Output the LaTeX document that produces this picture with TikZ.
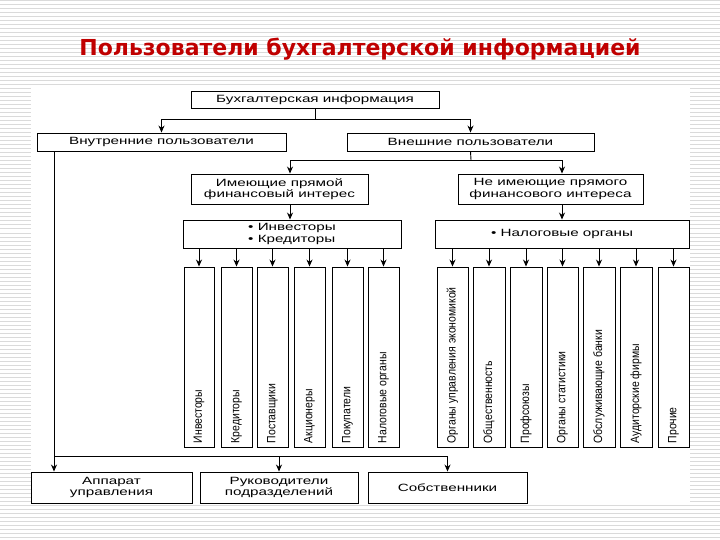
\documentclass[tikz,border=0pt]{standalone}
\usepackage{fontspec}
\setmainfont{Liberation Sans}
\newfontfamily\widefont[FakeStretch=1.45]{Liberation Sans}
\newfontfamily\narrowfont[FakeStretch=0.87]{Liberation Sans}
\newfontfamily\titlefont{DejaVu Sans}
\usetikzlibrary{arrows.meta,shadows}
\definecolor{titlered}{RGB}{192,0,0}
\definecolor{stripe}{RGB}{218,218,218}
\begin{document}
\begin{tikzpicture}[x=1pt,y=-1pt,
  box/.style={draw=black, line width=0.9pt, fill=white, inner sep=1pt,
    drop shadow={shadow xshift=1pt, shadow yshift=-1pt, fill=black, opacity=1},
    font=\widefont\fontsize{10.5}{11.5}\selectfont, align=center},
  colbox/.style={box, minimum height=180pt},
  coltext/.style={rotate=90, anchor=west, inner sep=0pt,
    font=\narrowfont\fontsize{12}{13}\selectfont},
  arr/.style={line width=0.9pt, -{Stealth[length=7pt,width=6pt]}},
  conn/.style={line width=0.9pt}]
\useasboundingbox (0,0) rectangle (720,540);
% striped background
\foreach \yy in {1,5,...,539} \draw[stripe, line width=1pt] (0,\yy) -- (720,\yy);
\fill[white] (31,88) rectangle (690,505);
% title
\node[font=\titlefont\bfseries\fontsize{22}{26}\selectfont, text=titlered] (title) at (360,49) {Пользователи бухгалтерской информацией};
% top boxes
\node[box, minimum width=248pt, minimum height=17pt] (bux) at (315,99.5) {Бухгалтерская информация};
\node[box, minimum width=249pt, minimum height=18pt] (vnutr) at (161.5,142) {Внутренние пользователи};
\node[box, minimum width=247pt, minimum height=18pt] (vnesh) at (470.5,142) {Внешние пользователи};
\node[box, minimum width=177pt, minimum height=30pt] (imeyu) at (279.5,189) {Имеющие прямой\\финансовый интерес};
\node[box, minimum width=185pt, minimum height=30pt] (neimeyu) at (550.5,189) {Не имеющие прямого\\финансового интереса};
\node[box, minimum width=218pt, minimum height=28pt, align=left] (invkr) at (292,234) {• Инвесторы\\• Кредиторы};
\node[box, minimum width=254pt, minimum height=28pt] (nalog) at (562,234) {• Налоговые органы};
% bottom boxes
\node[box, minimum width=161pt, minimum height=31pt] (appar) at (111.5,487.5) {Аппарат\\управления};
\node[box, minimum width=158pt, minimum height=31pt] (ruk) at (279,487.5) {Руководители\\подразделений};
\node[box, minimum width=159pt, minimum height=31pt] (sobst) at (447.5,487.5) {Собственники};
% columns
\foreach \n/\a/\b/\t in {L1/184/214/Инвесторы, L2/221/252/Кредиторы, L3/257/288/Поставщики,
  L4/294/325/Акционеры, L5/332/363/Покупатели, L6/368/399/Налоговые органы}{
  \node[colbox, minimum width={(\b-\a)*1pt}] (c\n) at ({(\a+\b)/2},357) {};
  \node[coltext] (t\n) at ([yshift=4pt]c\n.south) {\t};
  \draw[arr] (c\n.north |- invkr.south) -- (c\n.north);
}
\foreach \n/\a/\b/\t in {R1/437/468/Органы управления экономикой, R2/473/505/Общественность,
  R3/510/542/Профсоюзы, R4/547/578/Органы статистики, R5/583/615/Обслуживающие банки,
  R6/620/652/Аудиторские фирмы, R7/658/689/Прочие}{
  \node[colbox, minimum width={(\b-\a)*1pt}] (c\n) at ({(\a+\b)/2},357) {};
  \node[coltext] (t\n) at ([yshift=4pt]c\n.south) {\t};
  \draw[arr] (c\n.north |- nalog.south) -- (c\n.north);
}
% connectors
\coordinate (j1) at (315,119);
\draw[conn] (bux.south) -- (j1);
\draw[arr] (j1) -| (vnutr.north);
\draw[arr] (j1) -| (vnesh.north);
\coordinate (j2) at (471,160);
\draw[conn] (vnesh.south) -- (j2);
\draw[arr] (j2) -| ([xshift=10.5pt]imeyu.north);
\draw[arr] (j2) -| (nalog.north |- neimeyu.north);
\draw[arr] ([xshift=10.5pt]imeyu.south) -- ([xshift=10.5pt]imeyu.south |- invkr.north);
\draw[arr] (nalog.north |- neimeyu.south) -- (nalog.north);
\coordinate (j3) at (54,456);
\draw[conn] (j3 |- vnutr.south) -- (j3) -- (j3 -| sobst.north);
\draw[arr] (j3) -- (j3 |- appar.north);
\draw[arr] (j3 -| ruk.north) -- (ruk.north);
\draw[arr] (j3 -| sobst.north) -- (sobst.north);
\end{tikzpicture}
\end{document}
